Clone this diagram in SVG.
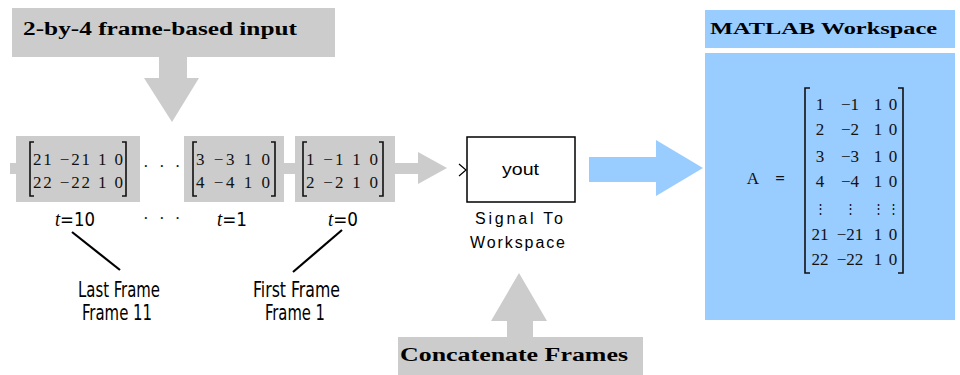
<svg xmlns="http://www.w3.org/2000/svg" width="960" height="375" viewBox="0 0 960 375">
<style>
.gray{fill:#cccccc}
.blue{fill:#99ccff}
.hdr{font-family:"Liberation Serif",serif;font-weight:bold;fill:#000}
.mx{font-family:"Liberation Serif",serif;font-size:17px;fill:#111}
.br{fill:none;stroke:#111;stroke-width:1.6}
.lbl{font-family:"DejaVu Sans Condensed","DejaVu Sans",sans-serif;font-size:22px;fill:#000}
.tl{font-family:"DejaVu Sans Condensed","DejaVu Sans",sans-serif;font-size:20px;fill:#000}
.blk{font-family:"Liberation Sans",sans-serif;font-size:16px;fill:#000}
.ln{stroke:#000;stroke-width:2.2;fill:none}
.vd{font-family:"Liberation Serif",serif;font-size:13px;fill:#111}
</style>
<g id="input-label">
<rect class="gray" x="12" y="8" width="323" height="49"/>
<text class="hdr" x="23" y="35" font-size="18" textLength="274" lengthAdjust="spacingAndGlyphs">2-by-4 frame-based input</text>
<polygon class="gray" points="159,57 187,57 187,78 199,78 172,122 144,78 159,78"/>
</g>
<g id="connectors">
<rect class="gray" x="10" y="163" width="8" height="11"/>
<rect class="gray" x="284" y="163" width="11" height="11"/>
<polygon class="gray" points="395,163 418,163 418,152 447,168 418,184 418,174 395,174"/>
<polyline points="459,164 466,170 459,176" fill="none" stroke="#000" stroke-width="1.2"/>
<polygon class="blue" points="589,157 656,157 656,140 703,168 656,196 656,182 589,182"/>
<line class="ln" x1="72" y1="232" x2="120" y2="270"/>
<line class="ln" x1="342" y1="230" x2="293" y2="272"/>
</g>
<g id="frame-last">
<rect class="gray" x="16" y="136" width="124" height="66"/>
<path class="br" d="M34,142 H30 V196 H34 M122,142 H126 V196 H122"/>
<text class="mx" x="33" y="165" textLength="90" lengthAdjust="spacing">21 −21 1 0</text>
<text class="mx" x="33" y="188" textLength="90" lengthAdjust="spacing">22 −22 1 0</text>
<text class="tl" x="55" y="226" textLength="40" lengthAdjust="spacingAndGlyphs"><tspan font-style="italic" font-family="Liberation Serif,serif">t</tspan>=10</text>
</g>
<g id="dots">
<text class="mx" x="143" y="172" letter-spacing="3">· · ·</text>
<text class="mx" x="143" y="224" letter-spacing="3">· · ·</text>
</g>
<g id="frame-1">
<rect class="gray" x="184" y="136" width="100" height="66"/>
<path class="br" d="M197,142 H193 V196 H197 M271,142 H275 V196 H271"/>
<text class="mx" x="196" y="165" textLength="74" lengthAdjust="spacing">3 −3 1 0</text>
<text class="mx" x="196" y="188" textLength="74" lengthAdjust="spacing">4 −4 1 0</text>
<text class="tl" x="217" y="226" textLength="30" lengthAdjust="spacingAndGlyphs"><tspan font-style="italic" font-family="Liberation Serif,serif">t</tspan>=1</text>
</g>
<g id="frame-0">
<rect class="gray" x="295" y="136" width="100" height="66"/>
<path class="br" d="M307,142 H303 V196 H307 M379,142 H383 V196 H379"/>
<text class="mx" x="306" y="165" textLength="72" lengthAdjust="spacing">1 −1 1 0</text>
<text class="mx" x="306" y="188" textLength="72" lengthAdjust="spacing">2 −2 1 0</text>
<text class="tl" x="328" y="226" textLength="30" lengthAdjust="spacingAndGlyphs"><tspan font-style="italic" font-family="Liberation Serif,serif">t</tspan>=0</text>
</g>
<g id="last-frame-label">
<text class="lbl" x="78" y="297" textLength="82" lengthAdjust="spacingAndGlyphs">Last Frame</text>
<text class="lbl" x="82" y="320" textLength="70" lengthAdjust="spacingAndGlyphs">Frame 11</text>
</g>
<g id="first-frame-label">
<text class="lbl" x="253" y="297" textLength="87" lengthAdjust="spacingAndGlyphs">First Frame</text>
<text class="lbl" x="265" y="320" textLength="60" lengthAdjust="spacingAndGlyphs">Frame 1</text>
</g>
<g id="signal-to-workspace">
<rect x="467" y="137" width="108" height="65" fill="#fff" stroke="#000" stroke-width="1.5"/>
<text class="blk" x="502" y="175" textLength="37" lengthAdjust="spacingAndGlyphs">yout</text>
<text class="blk" x="475" y="224" textLength="88" lengthAdjust="spacing">Signal To</text>
<text class="blk" x="470" y="248" textLength="95" lengthAdjust="spacing">Workspace</text>
</g>
<g id="concatenate-label">
<polygon class="gray" points="507,337 507,321 491,321 519,273 547,321 533,321 533,337"/>
<rect class="gray" x="398" y="337" width="245" height="38"/>
<text class="hdr" x="400" y="361" font-size="18" textLength="228" lengthAdjust="spacingAndGlyphs">Concatenate Frames</text>
</g>
<g id="matlab-workspace">
<rect class="blue" x="705" y="10" width="250" height="38"/>
<text class="hdr" x="710" y="34" font-size="17" textLength="227" lengthAdjust="spacingAndGlyphs">MATLAB Workspace</text>
<rect class="blue" x="705" y="53" width="250" height="267"/>
<text class="mx" x="753" y="184" text-anchor="middle">A</text>
<text class="mx" x="780" y="184" text-anchor="middle" font-size="22" font-weight="bold">=</text>
<path class="br" d="M810,88 H805 V273 H810 M898,88 H903 V273 H898"/>
<g class="mx" text-anchor="middle">
<text x="820" y="110">1</text><text x="850" y="110">−1</text><text x="878" y="110">1</text><text x="893" y="110">0</text>
<text x="820" y="135">2</text><text x="850" y="135">−2</text><text x="878" y="135">1</text><text x="893" y="135">0</text>
<text x="820" y="162">3</text><text x="850" y="162">−3</text><text x="878" y="162">1</text><text x="893" y="162">0</text>
<text x="820" y="187">4</text><text x="850" y="187">−4</text><text x="878" y="187">1</text><text x="893" y="187">0</text>
<text class="vd" x="820" y="213">⋮</text><text class="vd" x="850" y="213">⋮</text><text class="vd" x="878" y="213">⋮</text><text class="vd" x="893" y="213">⋮</text>
<text x="820" y="240">21</text><text x="850" y="240">−21</text><text x="878" y="240">1</text><text x="893" y="240">0</text>
<text x="820" y="265">22</text><text x="850" y="265">−22</text><text x="878" y="265">1</text><text x="893" y="265">0</text>
</g>
</g>
</svg>
